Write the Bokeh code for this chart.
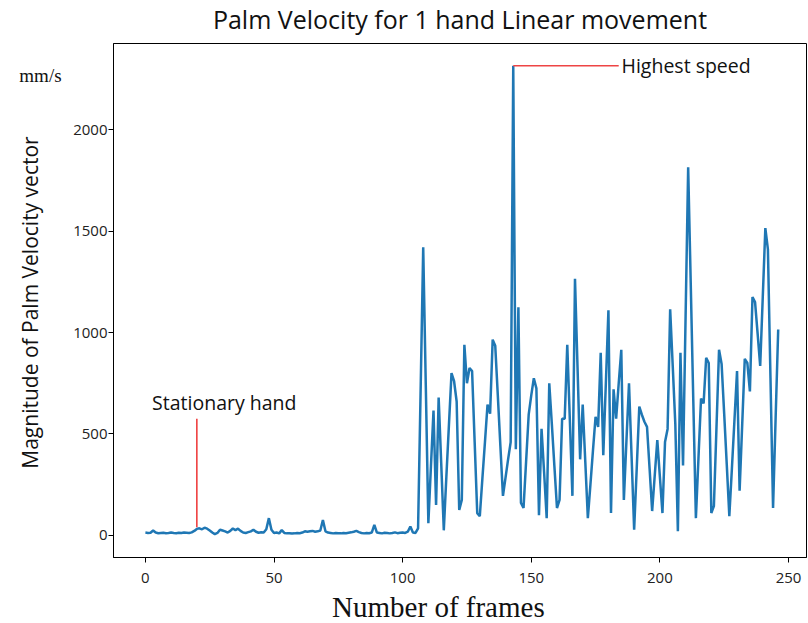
from bokeh.plotting import figure
from bokeh.models import Label, Range1d
from bokeh.embed import file_html
from bokeh.resources import INLINE

# ---- data ----
velocity_rest = [
    14, 12, 13, 24, 14, 11, 12, 13, 11, 12,
    14, 12, 11, 13, 12, 14, 13, 12, 15, 22,
    32, 35, 30, 38, 33, 24, 14, 6, 12, 28,
    24, 20, 14, 22, 34, 26, 33, 22, 14, 12,
    16, 20, 28, 18, 13, 15, 14, 30, 85, 28,
    12, 14, 10, 26, 12, 10, 11, 9, 10, 12,
    11, 14, 20, 18, 20, 22, 18, 20, 24, 76,
    20, 14, 12, 10, 12, 11, 10, 12, 11, 13,
    15, 18, 22, 16, 12, 10, 12, 11, 14, 52,
    14, 12, 10, 13, 12, 10, 12, 15, 11, 13,
    14, 12, 18, 44, 14, 12, 35,
]
velocity_move = [
    720, 1420, 740, 60, 340, 615, 150, 680, 355, 25,
    290, 545, 800, 760, 660, 125, 175, 940, 750, 825,
    810, 460, 110, 95, 280, 460, 645, 600, 965, 935,
    690, 440, 195, 285, 375, 460, 2315, 425, 1125, 160,
    135, 365, 595, 690, 775, 725, 100, 525, 310, 85,
    750, 550, 340, 135, 175, 575, 575, 940, 570, 195,
    1265, 825, 375, 645, 365, 85, 250, 420, 585, 535,
    900, 395, 750, 1110, 110, 720, 575, 750, 915, 175,
    465, 750, 390, 28, 330, 635, 595, 560, 535, 330,
    120, 295, 470, 290, 110, 460, 525, 1115, 835, 550,
    20, 900, 345, 1080, 1815, 1240, 660, 85, 380, 675,
    650, 875, 850, 110, 145, 530, 915, 845, 600, 350,
    95, 330, 570, 810, 220, 545, 870, 850, 710, 1175,
    1150, 995, 835, 1175, 1515, 1410, 775, 135, 580, 1015,
]
velocity = velocity_rest + velocity_move
frames = list(range(len(velocity)))

x_ticks = [0, 50, 100, 150, 200, 250]
y_ticks = [0, 500, 1000, 1500, 2000]

# annotation anchors (data coordinates)
stationary_x = [20, 20]
stationary_y = [40, 575]
stationary_text = "Stationary hand"
highest_x = [143, 184]
highest_y = [2315, 2315]
highest_text = "Highest speed"
unit_text = "mm/s"
title_text = "Palm Velocity for 1 hand Linear movement"
x_title = "Number of frames"
y_title = "Magnitude of Palm Velocity vector"

SANS = "Open Sans"
SERIF = "Liberation Serif"

p = figure(width=808, height=623, output_backend="svg", toolbar_location=None,
           x_range=Range1d(-12.4, 257.0), y_range=Range1d(-109, 2425),
           min_border_left=113, min_border_right=2, min_border_top=43,
           min_border_bottom=66, background_fill_color="white",
           border_fill_color="white")

p.grid.visible = False
p.outline_line_color = "black"
p.outline_line_width = 1

for ax in (p.xaxis[0], p.yaxis[0]):
    ax.axis_line_color = "black"
    ax.major_tick_out = 5
    ax.major_tick_in = 0
    ax.minor_tick_line_color = None
    ax.major_label_text_font = SANS
    ax.major_label_text_font_size = "15px"
    ax.major_label_text_color = "#222222"

p.xaxis.ticker = x_ticks
p.yaxis.ticker = y_ticks
p.xaxis.major_label_standoff = 10
p.yaxis.major_label_standoff = 1

p.line(frames, velocity, line_color="#1f77b4", line_width=2.5)

# annotations inside the frame
p.line(stationary_x, stationary_y, line_color="#ee3333", line_width=1.5)
p.line(highest_x, highest_y, line_color="#ee4444", line_width=1.5)

p.add_layout(Label(x=2.6, y=657, text=stationary_text, text_font=SANS,
                   text_font_size="19.5px", text_baseline="middle",
                   text_color="#111111"))
p.add_layout(Label(x=185.1, y=2316, text=highest_text, text_font=SANS,
                   text_font_size="19.5px", text_baseline="middle",
                   text_color="#111111"))

# texts outside the frame live in side panels (so they are not clipped)
p.add_layout(Label(x=122.3, y=2547, text=title_text, text_font=SANS,
                   text_font_size="25px", text_baseline="middle",
                   text_align="center", text_color="#111111"), "above")
p.add_layout(Label(x=-44.7, y=1148, text=y_title, text_font=SANS,
                   text_font_size="21px", text_baseline="middle",
                   text_align="center", angle=90, angle_units="deg",
                   text_color="#111111"), "left")
p.add_layout(Label(x=-40.8, y=2266, text=unit_text, text_font=SERIF,
                   text_font_size="19px", text_baseline="middle",
                   text_align="center", text_color="#111111"), "left")
p.add_layout(Label(x=113.9, y=-355, text=x_title, text_font=SERIF,
                   text_font_size="29px", text_baseline="middle",
                   text_align="center", text_color="#111111"), "below")

open("out.html", "w").write(file_html(p, INLINE))
